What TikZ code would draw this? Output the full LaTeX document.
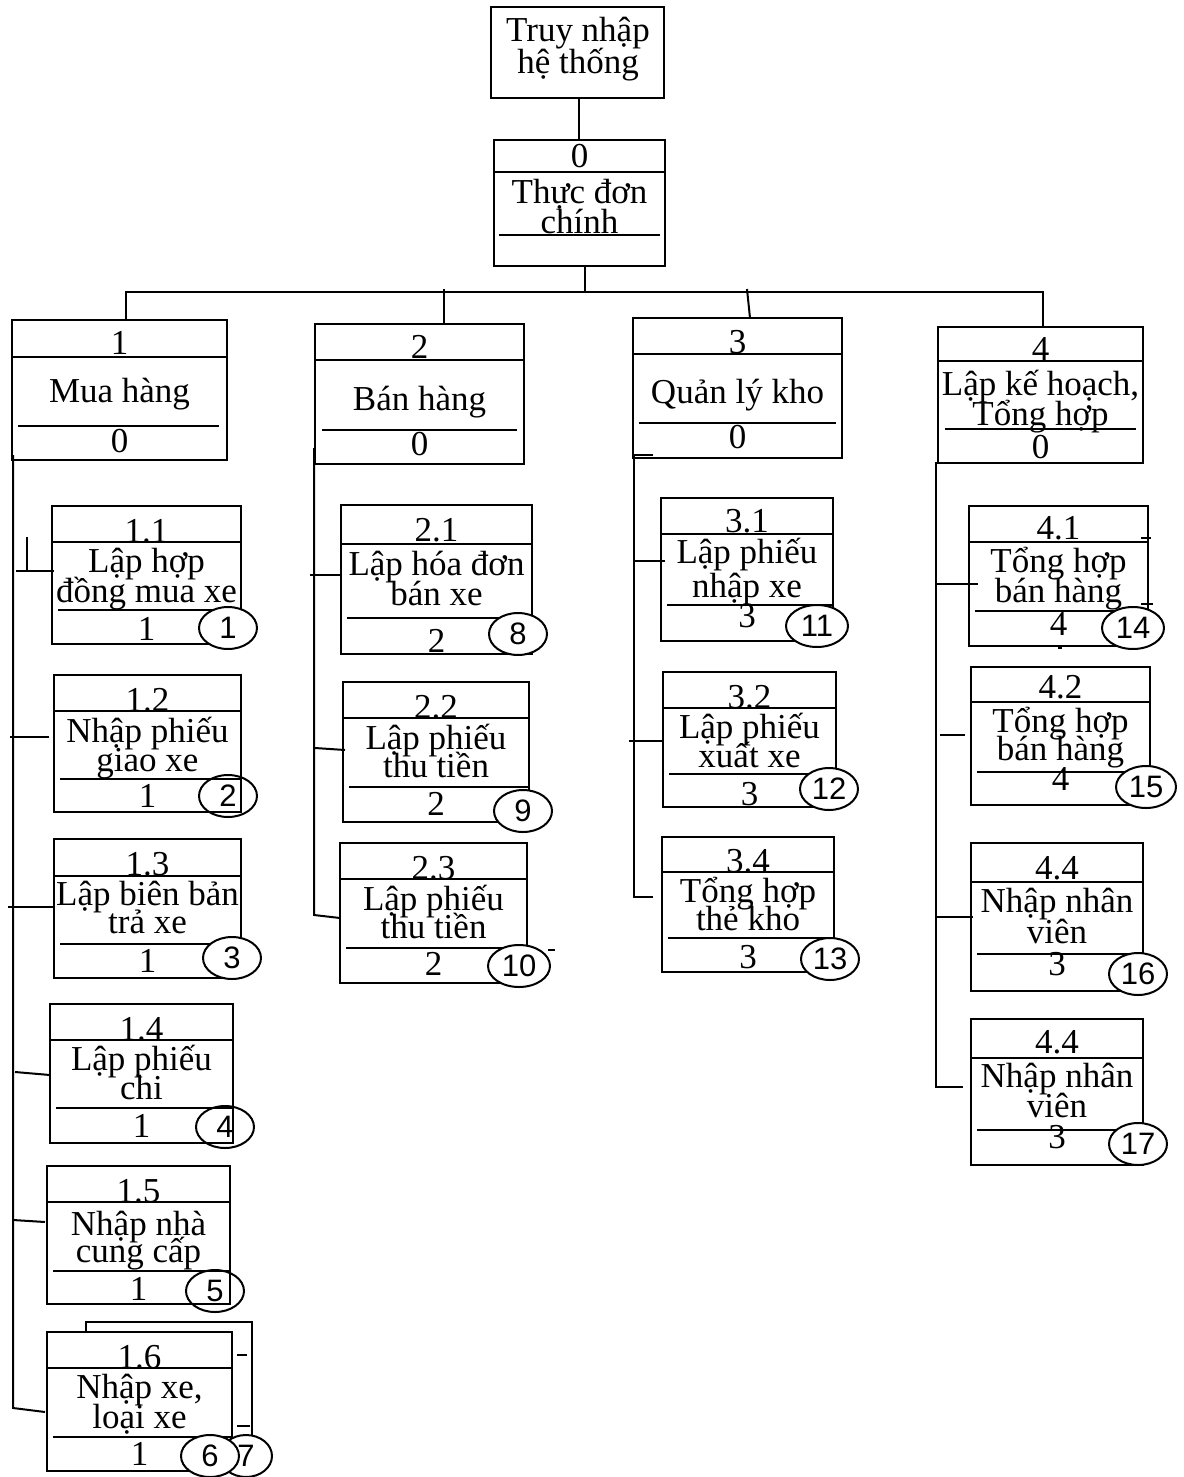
\documentclass[tikz,border=0pt]{standalone}
\usepackage{fontspec}
\setmainfont{Liberation Serif}
\newfontfamily\arialfont{Liberation Sans}
\usetikzlibrary{shapes.geometric}

\tikzset{
  boxframe/.style={draw, rectangle, line width=2pt, inner sep=0pt, outer sep=0pt},
  rule/.style={line width=2pt},
  wire/.style={line width=2pt},
  lbl/.style={anchor=base, inner sep=0pt, font=\fontsize{35}{30}\selectfont},
  tag/.style={ellipse, draw, line width=2pt, inner sep=0pt, minimum width=58pt,
              minimum height=42pt, font=\arialfont\fontsize{31}{31}\selectfont},
  tagw/.style={tag, fill=white},
}

% geometry helpers: "left,top,right,bottom", "divider,underline,inset-left,inset-right",
% "baseline of number, line 1, line 2, lower number"
\def\splitgeo#1,#2,#3,#4\relax{\def\bxL{#1}\def\bxT{#2}\def\bxR{#3}\def\bxB{#4}}
\def\splitrules#1,#2,#3,#4\relax{\def\bxD{#1}\def\bxU{#2}\def\bxUa{#3}\def\bxUb{#4}}
\def\splitbase#1,#2,#3,#4\relax{\def\bxN{#1}\def\bxA{#2}\def\bxBB{#3}\def\bxC{#4}}

\newcommand{\mkbox}[8]{%
  \splitgeo#2\relax
  \splitrules#3\relax
  \splitbase#4\relax
  \pgfmathsetmacro{\bxW}{\bxR-\bxL}%
  \pgfmathsetmacro{\bxH}{\bxB-\bxT}%
  \pgfmathsetmacro{\bxX}{(\bxL+\bxR)/2}%
  \node[boxframe, minimum width=\bxW pt, minimum height=\bxH pt, anchor=north west] (#1) at (\bxL,\bxT) {};
  \draw[rule] (\bxL,\bxD) -- (\bxR,\bxD);
  \draw[rule] ({\bxL+\bxUa},\bxU) -- ({\bxR-\bxUb},\bxU);
  \node[lbl] (#1-num) at (\bxX,\bxN) {#5};
  \node[lbl] (#1-l1) at (\bxX,\bxA) {#6};
  \node[lbl] (#1-l2) at (\bxX,\bxBB) {#7};
  \node[lbl] (#1-low) at (\bxX,\bxC) {#8};
}

\begin{document}
\begin{tikzpicture}[x=1pt,y=-1pt]
\useasboundingbox (0,0) rectangle (1183,1477);

% ---- entry box and main menu ----
\node[boxframe, minimum width=173pt, minimum height=91pt, anchor=north west] (top) at (491,7) {};
\node[lbl] (top-a) at (578,42) {Truy nhập};
\node[lbl] (top-b) at (578,74) {hệ thống};

\mkbox{m0}{494,140,665,266}{172,235,5,5}{167,203,233,260}{0}{Thực đơn}{chính}{}

% ---- level 1 ----
\mkbox{m1}{12,320,227,460}{357,426,6,8}{354,402,402,452}{1}{Mua hàng}{}{0}
\mkbox{m2}{315,324,524,464}{360,430,7,7}{358,410,410,455}{2}{Bán hàng}{}{0}
\mkbox{m3}{633,318,842,458}{354,423,6,6}{353,403,403,448}{3}{Quản lý kho}{}{0}
\mkbox{m4}{938,327,1143,463}{361,429,7,7}{360,395,425,458}{4}{Lập kế hoạch,}{Tổng hợp}{0}

% ---- column 1 ----
\mkbox{s11}{52,506,241,644}{542,610,6,1}{542,572,602,640}{1.1}{Lập hợp}{đồng mua xe}{1}
\mkbox{s12}{54,675,241,812}{711,779,6,1}{711,742,771,807}{1.2}{Nhập phiếu}{giao xe}{1}
\mkbox{s13}{54,839,241,978}{876,944,6,1}{875,905,933,972}{1.3}{Lập biên bản}{trả xe}{1}
\mkbox{s14}{50,1004,233,1143}{1040,1108,6,1}{1040,1070,1099,1137}{1.4}{Lập phiếu}{chi}{1}
\mkbox{s15}{47,1166,230,1304}{1202,1271,6,1}{1202,1235,1262,1300}{1.5}{Nhập nhà}{cung cấp}{1}
% stacked copy behind 1.6
\coordinate (bk1) at (86,1332);
\coordinate (bk2) at (86,1322);
\coordinate (bk3) at (252,1322);
\coordinate (bk4) at (252,1440);
\draw[rule] (bk1) -- (bk2) -- (bk3) -- (bk4);
\coordinate (bd1a) at (237,1355); \coordinate (bd1b) at (247,1355);
\coordinate (bd2a) at (237,1426); \coordinate (bd2b) at (250,1426);
\draw[rule] (bd1a) -- (bd1b);
\draw[rule] (bd2a) -- (bd2b);
\mkbox{s16}{47,1332,232,1471}{1368,1437,6,1}{1368,1398,1428,1465}{1.6}{Nhập xe,}{loại xe}{1}

% ---- column 2 ----
\mkbox{s21}{341,505,532,654}{544,618,6,1}{541,575,605,652}{2.1}{Lập hóa đơn}{bán xe}{2}
\mkbox{s22}{343,682,529,822}{718,787,6,1}{718,749,777,815}{2.2}{Lập phiếu}{thu tiền}{2}
\mkbox{s23}{340,843,527,983}{879,948,6,1}{879,910,938,975}{2.3}{Lập phiếu}{thu tiền}{2}
\coordinate (s23ma) at (548,950); \coordinate (s23mb) at (555,950);
\draw[rule] (s23ma) -- (s23mb);

% ---- column 3 ----
\mkbox{s31}{661,498,833,641}{534,605,6,1}{532,563,597,627}{3.1}{Lập phiếu}{nhập xe}{3}
\mkbox{s32}{663,672,836,807}{708,774,6,1}{708,738,767,805}{3.2}{Lập phiếu}{xuất xe}{3}
\mkbox{s34}{662,837,834,972}{872,938,6,1}{872,902,930,968}{3.4}{Tổng hợp}{thẻ kho}{3}

% ---- column 4 ----
\mkbox{s41}{969,506,1148,646}{542,611,6,1}{539,572,602,635}{4.1}{Tổng hợp}{bán hàng}{4}
\coordinate (s41ma) at (1141,538); \coordinate (s41mb) at (1151,538);
\coordinate (s41mc) at (1141,604); \coordinate (s41md) at (1153,604);
\coordinate (s41me) at (1058,648); \coordinate (s41mf) at (1062,648);
\draw[rule] (s41ma) -- (s41mb);
\draw[rule] (s41mc) -- (s41md);
\draw[rule] (s41me) -- (s41mf);
\mkbox{s42}{971,667,1150,805}{702,772,6,1}{698,732,760,790}{4.2}{Tổng hợp}{bán hàng}{4}
\mkbox{s43}{971,843,1143,991}{882,954,6,1}{879,912,943,975}{4.4}{Nhập nhân}{viên}{3}
\mkbox{s44}{971,1019,1143,1165}{1058,1130,6,1}{1053,1087,1117,1148}{4.4}{Nhập nhân}{viên}{3}

% ---- connectors: entry, menu and bus ----
\coordinate (jt) at (579,0);
\draw[wire] (jt |- top.south) -- (jt |- m0.north);
\coordinate (j0) at (585,292);
\draw[wire] (j0 |- m0.south) -- (j0);
\coordinate (busL) at (126,292);
\coordinate (busR) at (1043,292);
\draw[wire] (busL |- m1.north) -- (busL) -- (busR) -- (busR |- m4.north);
\coordinate (j2) at (444,289);
\draw[wire] (j2) -- (j2 |- m2.north);
\coordinate (j3) at (747,289);
\coordinate (k3) at (750,318);
\draw[wire] (j3) -- (k3);

% ---- connectors: column 1 ----
\coordinate (v1a) at (13,455);
\coordinate (v1b) at (13,1408);
\coordinate (v1c) at (45,1412);
\draw[wire] (v1a) -- (v1b) -- (v1c);
\coordinate (h11a) at (16,571); \coordinate (h11b) at (54,571);
\coordinate (t11a) at (27,537); \coordinate (t11b) at (27,570);
\draw[wire] (h11a) -- (h11b);
\draw[wire] (t11a) -- (t11b);
\coordinate (h12a) at (10,737); \coordinate (h12b) at (49,737);
\draw[wire] (h12a) -- (h12b);
\coordinate (h13a) at (8,907); \coordinate (h13b) at (54,907);
\draw[wire] (h13a) -- (h13b);
\coordinate (h14a) at (15,1072); \coordinate (h14b) at (50,1075);
\draw[wire] (h14a) -- (h14b);
\coordinate (h15a) at (13,1220); \coordinate (h15b) at (45,1222);
\draw[wire] (h15a) -- (h15b);

% ---- connectors: column 2 ----
\coordinate (v2a) at (314,448);
\coordinate (v2b) at (314,915);
\coordinate (v2c) at (340,918);
\draw[wire] (v2a) -- (v2b) -- (v2c);
\coordinate (h21a) at (310,575); \coordinate (h21b) at (342,575);
\draw[wire] (h21a) -- (h21b);
\coordinate (h22a) at (315,748); \coordinate (h22b) at (345,750);
\draw[wire] (h22a) -- (h22b);

% ---- connectors: column 3 ----
\coordinate (v3s) at (653,455);
\coordinate (v3a) at (634,455);
\coordinate (v3b) at (634,897);
\coordinate (v3c) at (653,897);
\draw[wire] (v3s) -- (v3a) -- (v3b) -- (v3c);
\coordinate (h31a) at (634,561); \coordinate (h31b) at (665,561);
\draw[wire] (h31a) -- (h31b);
\coordinate (h32a) at (629,741); \coordinate (h32b) at (663,741);
\draw[wire] (h32a) -- (h32b);

% ---- connectors: column 4 ----
\coordinate (v4s) at (977,463);
\coordinate (v4a) at (936,463);
\coordinate (v4b) at (936,1087);
\coordinate (v4c) at (963,1087);
\draw[wire] (v4s) -- (v4a) -- (v4b) -- (v4c);
\coordinate (h41a) at (935,584); \coordinate (h41b) at (978,584);
\draw[wire] (h41a) -- (h41b);
\coordinate (h42a) at (940,735); \coordinate (h42b) at (965,735);
\draw[wire] (h42a) -- (h42b);
\coordinate (h43a) at (935,917); \coordinate (h43b) at (973,917);
\draw[wire] (h43a) -- (h43b);

% ---- screen numbers ----
\node[tagw] (n1) at (228,628) {1};
\node[tag]  (n2) at (228,796) {2};
\node[tagw] (n3) at (232,958) {3};
\node[tag]  (n4) at (225,1127) {4};
\node[tag]  (n5) at (215,1291) {5};
\node[tagw, minimum width=52pt] (n7) at (246,1456) {7};
\node[tagw] (n6) at (210,1456) {6};
\node[tagw] (n8) at (518,634) {8};
\node[tagw] (n9) at (523,811) {9};
\node[tagw, minimum width=62pt] (n10) at (519,966) {10};
\node[tagw, minimum width=62pt] (n11) at (817,626) {11};
\node[tagw] (n12) at (829,789) {12};
\node[tagw] (n13) at (830,959) {13};
\node[tagw, minimum width=62pt] (n14) at (1133,628) {14};
\node[tagw, minimum width=60pt] (n15) at (1146,787) {15};
\node[tagw] (n16) at (1138,974) {16};
\node[tagw] (n17) at (1138,1144) {17};
\end{tikzpicture}
\end{document}
